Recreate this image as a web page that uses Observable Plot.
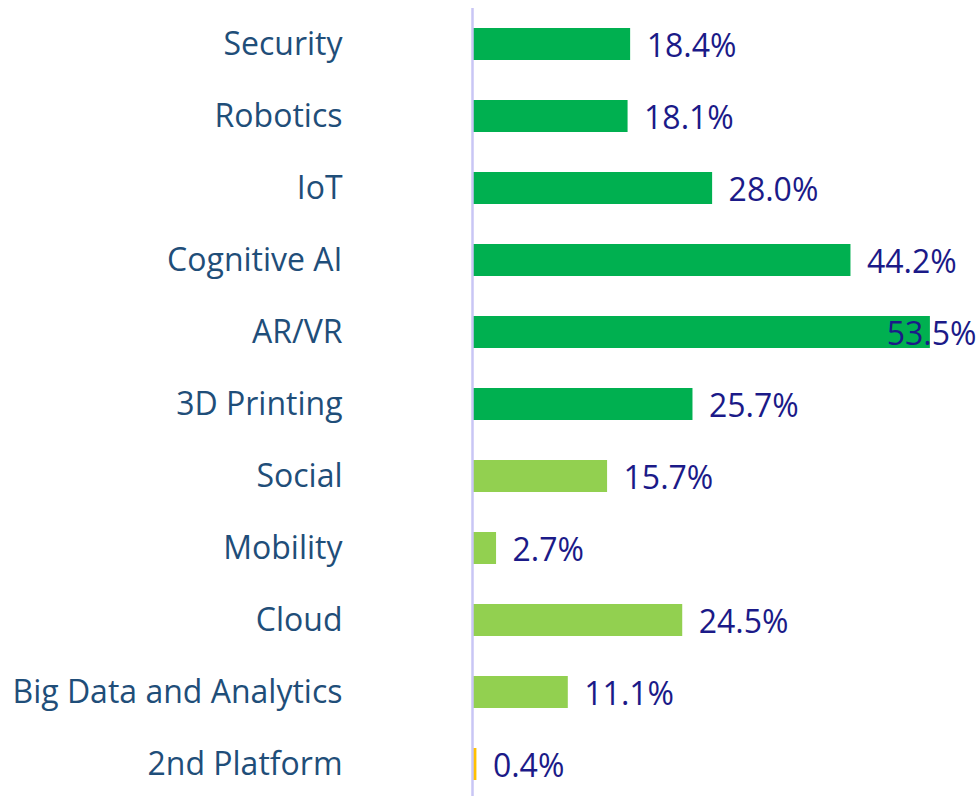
<!DOCTYPE html>
<html>
<head>
<meta charset="utf-8">
<script src="https://cdn.jsdelivr.net/npm/d3@7"></script>
<script src="https://cdn.jsdelivr.net/npm/@observablehq/plot@0.6"></script>
<style>
  html, body { margin: 0; padding: 0; background: #fff; }
  #chart svg { display: block; }
</style>
</head>
<body>
<div id="chart"></div>
<script>
const categories = ["Security", "Robotics", "IoT", "Cognitive AI", "AR/VR", "3D Printing", "Social", "Mobility", "Cloud", "Big Data and Analytics", "2nd Platform"];
const values = [18.4, 18.1, 28.0, 44.2, 53.5, 25.7, 15.7, 2.7, 24.5, 11.1, 0.4];
const groups = ["Innovation", "Innovation", "Innovation", "Innovation", "Innovation", "Innovation", "3rd Platform", "3rd Platform", "3rd Platform", "3rd Platform", "2nd Platform"];
const groupNames = ["Innovation", "3rd Platform", "2nd Platform"];
const groupColors = ["#00b050", "#92d050", "#ffc000"];

const data = categories.map((c, i) => ({ category: c, value: values[i], group: groups[i] }));

const W = 980, H = 796;
const marginLeft = 473, marginRight = 4;
const xMax = 58.9;

// labels that would run past the right edge are pinned to the frame's right side
const fits = d => d.value < 48;

const chart = Plot.plot({
  width: W,
  height: H,
  marginLeft,
  marginRight,
  marginTop: 8,
  marginBottom: 0,
  style: { fontFamily: "'Open Sans', sans-serif", background: "#fff", overflow: "visible" },
  x: { domain: [0, xMax], axis: null },
  y: { domain: categories, range: [7, 800], paddingInner: 0.556, paddingOuter: 0.278, label: null },
  color: { domain: groupNames, range: groupColors },
  marks: [
    Plot.barX(data, { x: "value", y: "category", fill: "group" }),
    Plot.ruleX([0], { stroke: "#c9c6f5", strokeWidth: 2.5, dx: -1 }),
    Plot.axisY({ tickSize: 0, tickPadding: 131, fontSize: 32, fill: "#1f4e79", dy: 0 }),
    Plot.text(data.filter(fits), {
      x: "value", y: "category", text: d => d.value.toFixed(1) + "%",
      textAnchor: "start", dx: 16, dy: 2, fontSize: 32, fill: "#1b1a88"
    }),
    Plot.text(data.filter(d => !fits(d)), {
      y: "category", frameAnchor: "right", text: d => d.value.toFixed(1) + "%",
      textAnchor: "end", dy: 2, fontSize: 32, fill: "#1b1a88"
    })
  ]
});
document.getElementById("chart").appendChild(chart);
</script>
</body>
</html>
